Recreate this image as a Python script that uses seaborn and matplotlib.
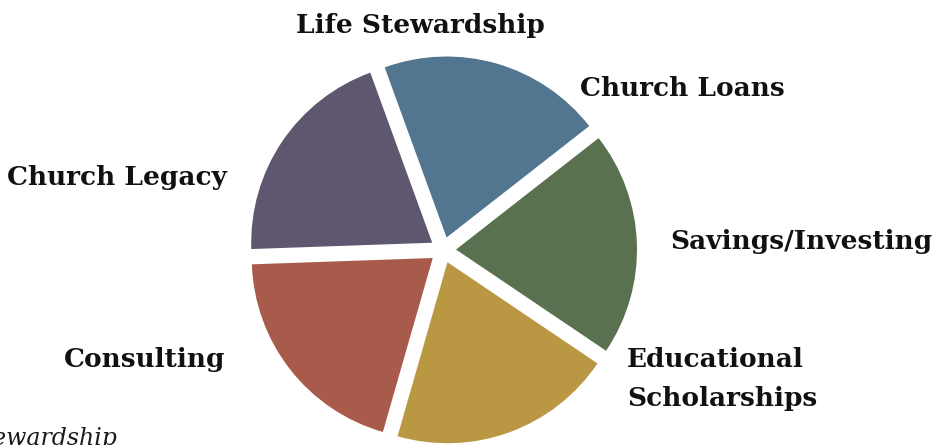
import matplotlib
matplotlib.use("Agg")
import matplotlib.pyplot as plt
import seaborn as sns

# slices, counter-clockwise from the upper-right boundary
slice_names = ["Life Stewardship", "Church Legacy", "Consulting",
               "Educational Scholarships", "Savings/Investing"]
slice_values = [1, 1, 1, 1, 1]
slice_colors = ["#52768F", "#5F5770", "#A95B4B", "#BA9742", "#5A7150"]

# text labels around the pie
label_texts = ["Life Stewardship", "Church Loans", "Church Legacy",
               "Savings/Investing", "Educational\nScholarships", "Consulting"]
caption = "Life Stewardship"

W, H = 935, 445

sns.set_theme(style="white")
plt.rcParams["font.family"] = ["DejaVu Serif"]

fig = plt.figure(figsize=(W / 100, H / 100), dpi=100)
ax = fig.add_axes([0, 0, 1, 1])

ax.pie(slice_values, colors=sns.color_palette(slice_colors), startangle=38,
       counterclock=True, radius=181, center=(443, H - 250),
       explode=[13] * len(slice_values), frame=True,
       wedgeprops=dict(linewidth=0))

# label layout in pixel coordinates (x, y from top, alignment)
layout = [
    (420, 25, "center"),
    (580, 88, "left"),
    (227, 178, "right"),
    (670, 242, "left"),
    (627, 379, "left"),
    (225, 360, "right"),
]
for txt, (px, py, ha) in zip(label_texts, layout):
    ax.text(px, H - py, txt, ha=ha, va="center", fontsize=19,
            fontweight="bold", color="#111111", linespacing=1.7)

ax.text(117, H - 445, caption, ha="right", va="baseline", fontsize=17,
        fontstyle="italic", color="#1a1a1a")

ax.set_xlim(0, W)
ax.set_ylim(0, H)
ax.set_aspect("equal")
ax.axis("off")

fig.savefig("out.png", dpi=100)
